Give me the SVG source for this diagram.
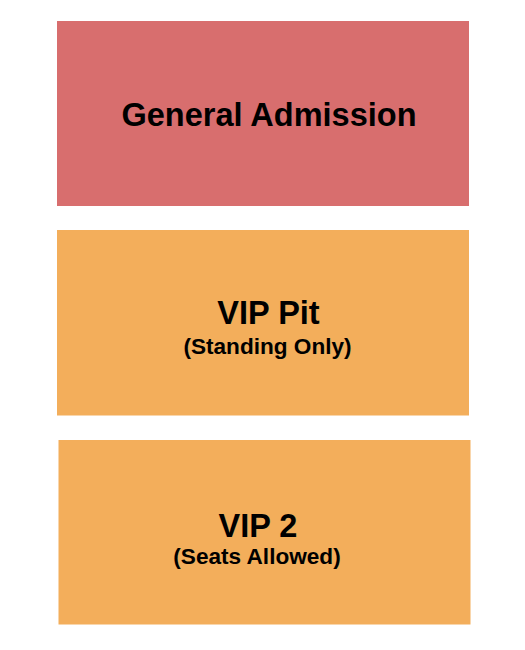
<svg xmlns="http://www.w3.org/2000/svg" width="525" height="650" viewBox="0 0 525 650">
<style>
.t{font-family:"Liberation Sans",Arial,sans-serif;font-weight:bold;fill:#000;text-anchor:middle}
.h{font-size:32.5px}
.s{font-size:22.6px}
</style>
<rect width="525" height="650" fill="#fff"/>
<g id="general-admission">
<rect x="57" y="21" width="412" height="185" fill="#D86E6E"/>
<text class="t h" x="269" y="126">General Admission</text>
</g>
<g id="vip-pit">
<rect x="57" y="230" width="412" height="185.5" fill="#F3AE5B"/>
<text class="t h" x="268.5" y="324">VIP Pit</text>
<text class="t s" x="267.5" y="353.5">(Standing Only)</text>
</g>
<g id="vip-2">
<rect x="58.5" y="440" width="412" height="184.5" fill="#F3AE5B"/>
<text class="t h" x="258" y="536.5">VIP 2</text>
<text class="t s" x="257" y="564">(Seats Allowed)</text>
</g>
<g id="connectors"/>
</svg>
